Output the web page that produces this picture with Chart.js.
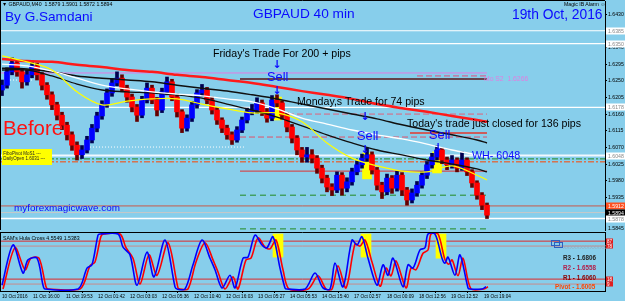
<!DOCTYPE html>
<html>
<head>
<meta charset="utf-8">
<script src="https://cdn.jsdelivr.net/npm/chart.js"></script>
<style>
  html, body { margin: 0; padding: 0; background: #87CEEB; }
  body { width: 625px; height: 301px; position: relative; overflow: hidden; font-family: "Liberation Sans", Arial, sans-serif; }
  canvas { position: absolute; left: 0; }
  #main { top: 0; }
  #osc { top: 231px; }
  .t { position: absolute; white-space: nowrap; line-height: 1; transform: translateY(-50%); }
  .arr { position: absolute; line-height: 1; transform: translate(-50%, -50%); color: #0a0aff; font: bold 11px "DejaVu Sans", sans-serif; }
  .blue { color: #0a0aff; }
  .note { font-size: 10.6px; color: #000; }
  .sell { font-size: 12.8px; color: #0a0aff; }
  .tiny { font-size: 5.2px; color: #000; }
  .piv { font-size: 6.3px; font-weight: bold; }
</style>
</head>
<body>
<canvas id="main" width="625" height="233"></canvas>
<canvas id="osc" width="625" height="70"></canvas>

<div class="t tiny" style="left:2px;top:5px">▼ GBPAUD,M40&nbsp; 1.5879 1.5901 1.5872 1.5894</div>
<div class="t blue" style="left:5px;top:17px;font-size:13.6px">By G.Samdani</div>
<div class="t blue" style="left:253px;top:14px;font-size:13.7px">GBPAUD 40 min</div>
<div class="t blue" style="left:512px;top:15px;font-size:13.8px">19th Oct, 2016</div>
<div class="t tiny" style="left:564px;top:5px">Magic IB Alarm ☺</div>

<div class="t note" style="left:213px;top:53px">Friday's Trade For 200 + pips</div>
<div class="arr" style="left:277px;top:64px">↓</div>
<div class="t sell" style="left:267px;top:77px">Sell</div>
<div class="arr" style="left:277px;top:90px">↓</div>

<div class="t note" style="left:297px;top:101px">Monday,s Trade for 74 pips</div>
<div class="arr" style="left:365px;top:116px">↓</div>
<div class="t sell" style="left:357px;top:136px">Sell</div>
<div class="arr" style="left:365px;top:149px">↓</div>

<div class="t note" style="left:407px;top:123px">Today's trade just closed for 136 pips</div>
<div class="t sell" style="left:429px;top:135px">Sell</div>
<div class="arr" style="left:438px;top:147px">↓</div>

<div class="t blue" style="left:472px;top:155px;font-size:10.7px">WH- 6048</div>
<div class="t" style="left:484px;top:79px;font-size:6.8px;color:#e07ee0">Mo S2&nbsp; 1.6266</div>
<div class="t" style="left:3px;top:128px;font-size:20.4px;color:#ff1010">Before</div>
<div class="t blue" style="left:14px;top:208px;font-size:9.9px">myforexmagicwave.com</div>

<div style="position:absolute;left:2px;top:149px;width:50px;height:14px;background:#ffff00;font-size:4.5px;line-height:5px;color:#222;overflow:hidden;padding-top:2px">
  <div>&nbsp;FiboPivot MoS1 ---</div><div>&nbsp;DailyOpen 1.6031 ---</div>
</div>

<div class="t tiny" style="left:3px;top:239px">SAM's Hula Cross 4.5549 1.5383</div>
<div style="position:absolute;left:551px;top:240px;width:7px;height:4px;border:1px solid #3060c0"></div>
<div style="position:absolute;left:554px;top:242px;width:7px;height:4px;border:1px solid #3060c0"></div>
<div class="t" style="left:563px;top:247px;font-size:5px;color:#9ab">XXXXXXXXXXXXX</div>
<div class="t piv" style="left:563px;top:258px;color:#222">R3 - 1.6806</div>
<div class="t piv" style="left:563px;top:268px;color:#b0204a">R2 - 1.6558</div>
<div class="t piv" style="left:563px;top:278px;color:#8b0000">R1 - 1.6060</div>
<div class="t piv" style="left:555px;top:287px;color:#ff4500">Pivot - 1.6005</div>

<script>
Chart.defaults.font.family = '"Liberation Sans", Arial, sans-serif';

// price bars (40 min)
const opens = [1.6225,1.6238,1.6274,1.6298,1.6274,1.6247,1.6266,1.6290,1.6266,1.6238,
  1.6212,1.6185,1.6157,1.6130,1.6104,1.6076,1.6050,1.6063,1.6090,1.6122,
  1.6155,1.6187,1.6217,1.6244,1.6257,1.6230,1.6206,1.6179,1.6157,1.6198,
  1.6230,1.6198,1.6171,1.6220,1.6247,1.6206,1.6166,1.6122,1.6149,1.6185,
  1.6217,1.6225,1.6198,1.6171,1.6144,1.6122,1.6104,1.6090,1.6117,1.6144,
  1.6166,1.6171,1.6190,1.6166,1.6149,1.6198,1.6190,1.6157,1.6125,1.6095,
  1.6063,1.6044,1.6050,1.6041,1.6014,1.5987,1.5963,1.5955,1.5995,1.5960,
  1.5977,1.6004,1.6023,1.6041,1.6050,1.6009,1.5968,1.5950,1.5987,1.5960,
  1.5995,1.5955,1.5928,1.5947,1.5968,1.5995,1.6023,1.6044,1.6063,1.6036,
  1.6023,1.6036,1.6014,1.6036,1.6004,1.5974,1.5941,1.5914];
const closes = [1.6238,1.6274,1.6298,1.6274,1.6247,1.6266,1.6290,1.6266,1.6238,1.6212,
  1.6185,1.6157,1.6130,1.6104,1.6076,1.6050,1.6063,1.6090,1.6122,1.6155,
  1.6187,1.6217,1.6244,1.6257,1.6230,1.6206,1.6179,1.6157,1.6198,1.6230,
  1.6198,1.6171,1.6220,1.6247,1.6206,1.6166,1.6122,1.6149,1.6185,1.6217,
  1.6225,1.6198,1.6171,1.6144,1.6122,1.6104,1.6090,1.6117,1.6144,1.6166,
  1.6171,1.6190,1.6166,1.6149,1.6198,1.6190,1.6157,1.6125,1.6095,1.6063,
  1.6044,1.6050,1.6041,1.6014,1.5987,1.5963,1.5955,1.5995,1.5960,1.5977,
  1.6004,1.6023,1.6041,1.6050,1.6009,1.5968,1.5950,1.5987,1.5960,1.5995,
  1.5955,1.5928,1.5947,1.5968,1.5995,1.6023,1.6044,1.6063,1.6036,1.6023,
  1.6036,1.6014,1.6036,1.6004,1.5974,1.5941,1.5914,1.5887];
const highs = [1.6252,1.6285,1.6312,1.6305,1.6280,1.6278,1.6304,1.6298,1.6272,1.6245,
  1.6220,1.6192,1.6165,1.6138,1.6112,1.6085,1.6075,1.6100,1.6132,1.6165,
  1.6196,1.6228,1.6256,1.6274,1.6266,1.6238,1.6214,1.6186,1.6208,1.6244,
  1.6238,1.6205,1.6230,1.6260,1.6254,1.6214,1.6172,1.6158,1.6194,1.6226,
  1.6240,1.6232,1.6206,1.6178,1.6150,1.6130,1.6112,1.6126,1.6152,1.6176,
  1.6186,1.6204,1.6198,1.6175,1.6210,1.6212,1.6196,1.6164,1.6132,1.6102,
  1.6070,1.6070,1.6064,1.6048,1.6022,1.5995,1.5972,1.6004,1.6002,1.5988,
  1.6014,1.6034,1.6052,1.6068,1.6058,1.6016,1.5976,1.5998,1.5994,1.6006,
  1.6002,1.5962,1.5958,1.5978,1.6004,1.6032,1.6054,1.6074,1.6068,1.6044,
  1.6048,1.6042,1.6058,1.6042,1.6010,1.5980,1.5948,1.5920];
const lows = [1.6210,1.6230,1.6266,1.6262,1.6230,1.6238,1.6258,1.6252,1.6225,1.6200,
  1.6172,1.6144,1.6118,1.6090,1.6062,1.6036,1.6040,1.6055,1.6082,1.6112,
  1.6146,1.6178,1.6208,1.6236,1.6220,1.6192,1.6166,1.6140,1.6150,1.6190,
  1.6188,1.6155,1.6164,1.6212,1.6196,1.6152,1.6110,1.6114,1.6140,1.6176,
  1.6208,1.6188,1.6160,1.6132,1.6110,1.6092,1.6078,1.6084,1.6110,1.6136,
  1.6158,1.6162,1.6156,1.6138,1.6142,1.6180,1.6146,1.6112,1.6082,1.6050,
  1.6030,1.6030,1.6028,1.6000,1.5974,1.5950,1.5940,1.5948,1.5941,1.5950,
  1.5968,1.5996,1.6014,1.6032,1.5998,1.5955,1.5932,1.5942,1.5946,1.5952,
  1.5940,1.5914,1.5920,1.5938,1.5960,1.5986,1.6014,1.6036,1.6026,1.6010,
  1.6014,1.6004,1.6008,1.5994,1.5962,1.5930,1.5902,1.5878];

// moving averages, read at every 5th bar
const maIdx = [0,5,10,15,20,25,30,35,40,45,50,55,60,65,70,75,80,85,90,95,97];
const maRed = [1.6309,1.6303,1.6301,1.6293,1.6287,1.6279,1.6274,1.6266,1.6260,1.6252,1.6244,1.6233,1.6222,1.6212,1.6201,1.6187,1.6176,1.6166,1.6155,1.6144,1.6139];
const maBlack1 = [1.6284,1.6282,1.6274,1.6263,1.6257,1.6252,1.6247,1.6238,1.6230,1.6222,1.6212,1.6201,1.6187,1.6174,1.6160,1.6147,1.6131,1.6117,1.6104,1.6090,1.6082];
const maBlack2 = [1.6279,1.6279,1.6263,1.6241,1.6225,1.6220,1.6217,1.6212,1.6203,1.6187,1.6171,1.6152,1.6128,1.6104,1.6082,1.6063,1.6050,1.6036,1.6025,1.6012,1.6004];
const maWhite = [1.6295,1.6290,1.6276,1.6257,1.6238,1.6228,1.6220,1.6214,1.6209,1.6201,1.6193,1.6174,1.6149,1.6133,1.6117,1.6104,1.6093,1.6079,1.6063,1.6050,1.6044];
const maYellow = [1.6317,1.6301,1.6279,1.6220,1.6185,1.6195,1.6201,1.6201,1.6187,1.6174,1.6163,1.6163,1.6139,1.6082,1.6041,1.6020,1.6006,1.6004,1.6020,1.5995,1.5982];

// signal bars (yellow)
const markIdx = [55, 73, 87];
const markLo = [1.6144, 1.5985, 1.6001];
const markHi = [1.6206, 1.6055, 1.6058];

// horizontal levels
const levelPrice = [1.6385,1.6350,1.6271,1.6255,1.6263,1.6178,1.6160,1.6098,1.6109,1.6071,1.6252,1.6048,1.6039,1.6031,1.6006,1.5941,1.5912,1.5894,1.5878,1.5850];
const levelFrom = [-0.4,-0.4,-0.4,47.6,83,-0.4,53.6,47.6,81.6,17.6,1.6,-0.4,-0.4,-0.4,47.6,47.6,-0.4,-0.4,-0.4,47.6];
const levelTo = [120.6,120.6,97,97,97,120.6,97,97,97,48.6,6.2,120.6,120.6,120.6,97,97,120.6,120.6,120.6,97];

// price axis
const priceTicks = [1.6430,1.6385,1.6340,1.6295,1.6250,1.6205,1.6160,1.6115,1.6070,1.6025,1.5980,1.5935,1.5890];
const boxLabels = [1.6385,1.6350,1.6178,1.6048,1.5912,1.5894,1.5878];

// oscillator
const oscBlueX = [0,2.2,4.2,5.2,7,8.2,8.6,15.2,17,18,19.2,19.6,23.2,24.2,25.6,27,29,30.4,32.6,34.6,35,36.6,38.2,40,41.6,42.6,44,45.6,46.6,48.2,49.2,50.6,52,53,54.2,55.6,56.6,57,60.6,62.6,64.2,65.6,66.6,68.2,70,71,72,73.2,75,76.2,77.2,78.2,80.2,81.2,82.2,83.6,84.6,85.2,86.6,88,88.6,89.2,90.6,91.6,93.2,93.6,96,96.8];
const oscBlue = [7,80,29,53,56,7,0,0,38,44,98,100,100,76,62,7,67,22,89,4,0,0,44,89,56,35,2,25,2,56,58,98,80,75,95,38,2,0,0,29,2,0,47,4,89,80,95,56,7,44,25,56,4,44,38,71,75,100,100,56,47,58,25,62,2,0,0,4];
const oscRedX = [0.2,2.6,4.6,5.8,7.4,8.8,9.2,15.6,17.6,18.6,19.8,20.4,23.6,24.8,26.2,27.6,29.4,31,33.2,35.2,35.6,37.2,38.8,40.6,42.2,43.2,44.6,46.2,47.2,48.8,49.8,51.2,52.6,53.6,54.8,56.2,57.4,61.2,63.2,64.8,66,67.2,68.8,70.6,71.6,72.6,74,75.6,76.8,77.8,78.8,80.8,81.8,82.8,84.2,85.2,85.8,87.2,88.6,89.4,90,91.2,92.2,93.8,96.4,97.2];
const oscRed = [0,75,35,56,56,4,0,0,42,49,96,100,100,75,56,9,62,25,84,2,0,0,49,84,53,31,0,22,0,53,56,93,76,73,89,35,0,0,24,0,0,42,2,82,78,89,49,5,38,24,51,2,38,35,65,71,100,100,53,45,53,24,56,0,0,4];
const oscLevels = [87, 78, 18, 9];
const oscMarkIdx = [55.2, 72.8, 87.8];
const oscMarkLo = [58, 58, 56];
const oscMarkHi = [100, 100, 100];

// time axis
const timeIdx = [0,6.2,12.8,19.2,25.6,32,38.4,44.8,51.2,57.6,64,70.4,77,83.4,89.8,96.4];
const timeLabels = ['10 Oct 2016','11 Oct 16:00','11 Oct 19:53','12 Oct 01:42','12 Oct 03:03','12 Oct 05:36','12 Oct 10:40','12 Oct 16:03','13 Oct 05:27','14 Oct 05:53','14 Oct 15:40','17 Oct 02:57','18 Oct 00:09','18 Oct 12:56','19 Oct 12:52','19 Oct 19:04'];

const X_MIN = -0.4, X_MAX = 120.6;

const levelStyles = [
  {c: '#ffffff', w: 1.2, d: []},
  {c: '#ffffff', w: 1.2, d: []},
  {c: '#e27be2', w: 1, d: []},
  {c: '#5a1414', w: 1.5, d: []},
  {c: '#e0507a', w: 1, d: [6, 3]},
  {c: '#ffffff', w: 1.2, d: []},
  {c: '#e0607a', w: 1, d: [6, 3]},
  {c: '#e0506a', w: 1, d: [6, 3]},
  {c: '#cd5c5c', w: 2, d: []},
  {c: '#ffffff', w: 1, d: [1, 2]},
  {c: '#ffffff', w: 1, d: [1, 2]},
  {c: '#f2f8ff', w: 2, d: []},
  {c: '#228b22', w: 1, d: [6, 2, 2, 2]},
  {c: '#ff4500', w: 1, d: [6, 2, 2, 2]},
  {c: '#e03030', w: 1, d: []},
  {c: '#228b22', w: 1, d: [6, 4]},
  {c: '#c85a4a', w: 1, d: []},
  {c: '#c8c8c8', w: 1, d: []},
  {c: '#ffffff', w: 1.5, d: []},
  {c: '#228b22', w: 1, d: [6, 4]}
];
const boxStyles = [
  {bg: '#ffffff', fg: '#888'}, {bg: '#ffffff', fg: '#888'}, {bg: '#ffffff', fg: '#888'},
  {bg: '#ffffff', fg: '#888'}, {bg: '#ff5020', fg: '#fff'}, {bg: '#000000', fg: '#fff'},
  {bg: '#ffffff', fg: '#888'}
];

const noPad = a => { a.paddingTop = 0; a.paddingBottom = 0; a.paddingLeft = 0; a.paddingRight = 0; };

function maLine(values, color, width) {
  return {
    type: 'line', order: 0,
    data: values.map((v, i) => ({x: maIdx[i], y: v})),
    borderColor: color, borderWidth: width, pointRadius: 0, tension: 0.35
  };
}

const levelSets = levelPrice.map((p, i) => ({
  type: 'line', order: 5,
  data: [{x: levelFrom[i], y: p}, {x: levelTo[i], y: p}],
  borderColor: levelStyles[i].c, borderWidth: levelStyles[i].w, borderDash: levelStyles[i].d,
  pointRadius: 0
}));

const upBar = closes.map((c, i) => c >= opens[i]);

const mainFrame = {
  id: 'mainFrame',
  afterDraw(chart) {
    const {ctx, chartArea, scales} = chart;
    ctx.save();
    ctx.strokeStyle = '#000';
    ctx.lineWidth = 1;
    ctx.beginPath();
    ctx.moveTo(0.5, 0); ctx.lineTo(0.5, chartArea.bottom);
    ctx.moveTo(0, 0.5); ctx.lineTo(chartArea.right, 0.5);
    ctx.stroke();
    ctx.font = '5.2px "Liberation Sans", Arial';
    ctx.textBaseline = 'middle';
    boxLabels.forEach((v, i) => {
      const py = Math.round(scales.y.getPixelForValue(v));
      ctx.fillStyle = boxStyles[i].bg;
      ctx.fillRect(chartArea.right + 1, py - 3.5, 19, 7);
      ctx.fillStyle = boxStyles[i].fg;
      ctx.fillText(v.toFixed(4), chartArea.right + 3, py + 0.5);
    });
    ctx.fillStyle = '#000';
    ctx.fillText('1.5845', chartArea.right + 3, chartArea.bottom - 1);
    ctx.restore();
  }
};

new Chart(document.getElementById('main'), {
  type: 'bar',
  data: {
    datasets: [
      maLine(maYellow, '#ffff00', 1.2),
      maLine(maWhite, '#ffffff', 1.4),
      maLine(maBlack2, '#101010', 1.3),
      maLine(maBlack1, '#101010', 1.5),
      maLine(maRed, '#ff1a1a', 2.5),
      {
        order: 1, grouped: false, barThickness: 5,
        data: closes.map((c, i) => ({x: i, y: [opens[i], c]})),
        backgroundColor: upBar.map(u => u ? '#0000ff' : '#ff0000')
      },
      {
        order: 2, grouped: false, barThickness: 3,
        data: closes.map((c, i) => ({x: i, y: [lows[i], highs[i]]})),
        backgroundColor: upBar.map(u => u ? '#000050' : '#640000')
      },
      {
        order: 3, grouped: false, barThickness: 9,
        data: markIdx.map((x, i) => ({x: x, y: [markLo[i], markHi[i]]})),
        backgroundColor: '#ffff00'
      },
      ...levelSets
    ]
  },
  options: {
    responsive: false, animation: false, events: [],
    layout: {padding: {top: 1, bottom: 3, left: 0, right: 0}},
    plugins: {legend: {display: false}, tooltip: {enabled: false}},
    scales: {
      x: {type: 'linear', min: X_MIN, max: X_MAX, offset: false, display: false},
      y: {
        position: 'right', min: 1.5847, max: 1.64653,
        grid: {drawOnChartArea: false, tickLength: 2, color: '#000'},
        border: {color: '#000'},
        ticks: {color: '#000', padding: 1, font: {size: 5.2}, callback: v => v.toFixed(4)},
        afterBuildTicks: a => { a.ticks = priceTicks.map(v => ({value: v})); },
        afterFit: a => { a.width = 20; noPad(a); }
      }
    }
  },
  plugins: [mainFrame]
});

const oscFrame = {
  id: 'oscFrame',
  afterDraw(chart) {
    const {ctx, chartArea, scales} = chart;
    ctx.save();
    ctx.strokeStyle = '#000';
    ctx.lineWidth = 1;
    ctx.beginPath();
    ctx.moveTo(0, chartArea.top + 0.5); ctx.lineTo(chartArea.right, chartArea.top + 0.5);
    ctx.moveTo(0.5, chartArea.top); ctx.lineTo(0.5, chartArea.bottom);
    ctx.stroke();
    ctx.font = '4.5px "Liberation Sans", Arial';
    ctx.textBaseline = 'middle';
    oscLevels.forEach(v => {
      const py = Math.round(scales.y.getPixelForValue(v));
      ctx.fillStyle = '#e02020';
      ctx.fillRect(chartArea.right + 1, py - 2.5, 7, 5);
      ctx.fillStyle = '#fff';
      ctx.fillText(String(v), chartArea.right + 2, py + 0.3);
    });
    ctx.restore();
  }
};

new Chart(document.getElementById('osc'), {
  type: 'line',
  data: {
    datasets: [
      {
        order: 0, data: oscBlueX.map((x, i) => ({x: x, y: oscBlue[i]})),
        borderColor: '#0000ff', borderWidth: 1.6, pointRadius: 0, tension: 0.3
      },
      {
        order: 1, data: oscRedX.map((x, i) => ({x: x, y: oscRed[i]})),
        borderColor: '#ff0000', borderWidth: 1.6, pointRadius: 0, tension: 0.3
      },
      {
        type: 'bar', order: 2, grouped: false, barThickness: 10,
        data: oscMarkIdx.map((x, i) => ({x: x, y: [oscMarkLo[i], oscMarkHi[i]]})),
        backgroundColor: '#ffff00'
      },
      ...oscLevels.map((v, i) => ({
        order: 3, data: [{x: X_MIN, y: v}, {x: X_MAX, y: v}],
        borderColor: i % 2 === 0 ? '#e02828' : '#c88a8a', borderWidth: 1, pointRadius: 0
      }))
    ]
  },
  options: {
    responsive: false, animation: false, events: [],
    layout: {padding: {top: 1, bottom: 0, left: 0, right: 0}},
    plugins: {legend: {display: false}, tooltip: {enabled: false}},
    scales: {
      x: {
        type: 'linear', min: X_MIN, max: X_MAX, offset: false, position: 'bottom',
        grid: {drawOnChartArea: false, tickLength: 2, color: '#000'},
        border: {color: '#000'},
        ticks: {autoSkip: false, maxRotation: 0, align: 'start', padding: 1, color: '#000', font: {size: 4.7},
                callback: (v, i) => timeLabels[i]},
        afterBuildTicks: a => { a.ticks = timeIdx.map(v => ({value: v})); },
        afterFit: a => { a.height = 10; noPad(a); }
      },
      y: {
        position: 'right', min: -3.6, max: 103.6,
        grid: {drawOnChartArea: false, drawTicks: false},
        border: {color: '#000'},
        ticks: {display: false},
        afterFit: a => { a.width = 20; noPad(a); }
      }
    }
  },
  plugins: [oscFrame]
});
</script>
</body>
</html>
